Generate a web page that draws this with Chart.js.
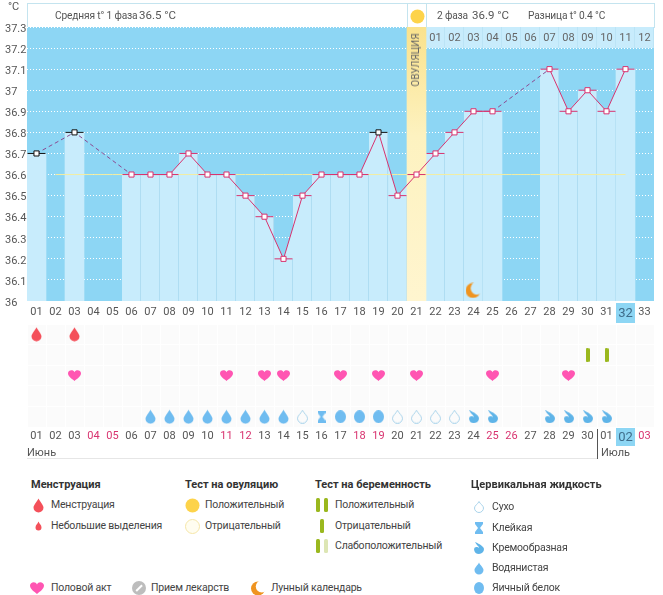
<!DOCTYPE html>
<html lang="ru">
<head>
<meta charset="utf-8">
<title>График БТТ</title>
<script src="https://cdn.jsdelivr.net/npm/chart.js@4"></script>
<style>
  html, body { margin: 0; padding: 0; background: #fff; }
  #page { position: relative; width: 663px; height: 595px; overflow: hidden; font-family: Roboto, sans-serif; color: #444; }
  #page canvas { position: absolute; }
  .t { position: absolute; white-space: nowrap; font-size: 10.5px; letter-spacing: -0.2px; line-height: 14px; transform: translateY(-50%); }
  .h { font-size: 10.2px; letter-spacing: -0.15px; color: #555; }
  .b { font-weight: 700; font-size: 11px; letter-spacing: 0; color: #333; }
  .n { font-size: 11.5px; letter-spacing: 0; color: #555; }
  .m { font-size: 11px; letter-spacing: 0; color: #555; }
  .box { position: absolute; box-sizing: border-box; }
</style>
</head>
<body>
<div id="page">
  <div class="box" style="left:27px;top:3px;width:628px;height:25px;border:1px solid #c4e4ef;border-bottom:0"></div>
  <div class="box" style="left:407px;top:3px;width:20px;height:25px;border:1px solid #c4e4ef;border-width:0 1px"></div>
  <canvas id="tempChart" width="663" height="326" style="left:0;top:0"></canvas>
  <canvas id="marksChart" width="663" height="122" style="left:0;top:324px"></canvas>
  <div class="box" style="left:27px;top:458px;width:570px;height:1px;background:#e6e6e6"></div>
  <div class="box" style="left:597px;top:429px;width:1px;height:30px;background:#555"></div>
  <div class="t" id="ovulation" style="left:416px;top:60px;transform:translate(-50%,-50%) rotate(-90deg);color:#666;font-size:10px;letter-spacing:0">ОВУЛЯЦИЯ</div>
</div>
<script>
const dayLabels = ['01','02','03','04','05','06','07','08','09','10','11','12','13','14','15','16','17','18','19','20','21','22','23','24','25','26','27','28','29','30','31','32','33'];
const calendarLabels = ['01','02','03','04','05','06','07','08','09','10','11','12','13','14','15','16','17','18','19','20','21','22','23','24','25','26','27','28','29','30','01','02','03'];
const tempTicks = ['36','36.1','36.2','36.3','36.4','36.5','36.6','36.7','36.8','36.9','37','37.1','37.2','37.3'];
const temps = [36.7,null,36.8,null,null,36.6,36.6,36.6,36.7,36.6,36.6,36.5,36.4,36.2,36.5,36.6,36.6,36.6,36.8,36.5,36.6,36.7,36.8,36.9,36.9,null,null,37.1,36.9,37,36.9,37.1,null];
const meanTemp = [null,36.6,36.6,36.6,36.6,36.6,36.6,36.6,36.6,36.6,36.6,36.6,36.6,36.6,36.6,36.6,36.6,36.6,36.6,36.6,36.6,36.6,36.6,36.6,36.6,36.6,36.6,36.6,36.6,36.6,36.6,36.6,null];
const excludedDays = [1,3,19];
const ovulationDay = 21;
const moonDay = 24;
const topStripDays = [22,23,24,25,26,27,28,29,30,31,32,33];
const topStripLabels = ['01','02','03','04','05','06','07','08','09','10','11','12'];
const todayDay = 32;
const redDays = [4,5,11,12,18,19,25,26,33];

const menstruationDays = [1,3];
const testDays = [30,31];
const sexDays = [3,11,13,14,17,19,21,25,29];
const wateryDays = [7,8,9,10,11,12,13,14];
const dryDays = [15,20,21,22,23];
const stickyDays = [16];
const eggDays = [17,18,19];
const creamyDays = [24,25,28,29,30,31];

const skyBlue = '#8dd6f4';
const paleBlue = '#c8ecfc';
const seam = '#a3d6ee';
const pink = '#d8336f';

// ---- icons, used on the chart and in the legend
function icon(w, h, draw) {
  const c = document.createElement('canvas');
  c.width = w; c.height = h;
  draw(c.getContext('2d'), w, h);
  return c;
}
function dropPath(g, w, h) {
  const r = w / 2 - 0.5;
  g.beginPath();
  g.moveTo(w / 2, 0.5);
  g.bezierCurveTo(w / 2 + 1, 3, w - 0.5, h - r - 3, w - 0.5, h - r - 0.5);
  g.arc(w / 2, h - r - 0.5, r, 0, Math.PI);
  g.bezierCurveTo(0.5, h - r - 3, w / 2 - 1, 3, w / 2, 0.5);
  g.closePath();
}
const fullDrop = (w, h, col) => icon(w, h, (g) => { dropPath(g, w, h); g.fillStyle = col; g.fill(); });
const hollowDrop = (w, h) => icon(w, h, (g) => { dropPath(g, w, h); g.strokeStyle = '#a9d3ea'; g.stroke(); });
const creamDrop = (w, h) => icon(w, h, (g) => {
  g.fillStyle = '#5fb4e8';
  g.beginPath();
  g.moveTo(1, 0);
  g.bezierCurveTo(6, 2, w, 5, w, h - 5);
  g.arc(w - 5, h - 5, 5, 0, Math.PI * 0.95);
  g.bezierCurveTo(w - 10, h - 8, w - 6, h - 7, w - 5, h - 6);
  g.bezierCurveTo(w - 5, h - 8, 3, 4, 1, 0);
  g.fill();
});
const eggDrop = (w, h) => icon(w, h, (g) => {
  g.fillStyle = '#6fbcf0';
  g.beginPath();
  g.ellipse(w / 2, h / 2, w / 2, h / 2, 0, 0, Math.PI * 2);
  g.fill();
});
const sticky = (w, h) => icon(w, h, (g) => {
  g.fillStyle = '#6fbcf0';
  g.beginPath();
  g.moveTo(0, 0); g.lineTo(w, 0); g.lineTo(w, 2);
  g.lineTo(w / 2 + 1, h / 2); g.lineTo(w, h - 2); g.lineTo(w, h); g.lineTo(0, h); g.lineTo(0, h - 2);
  g.lineTo(w / 2 - 1, h / 2); g.lineTo(0, 2);
  g.closePath();
  g.fill();
});
const heart = (w, h, col) => icon(w, h, (g) => {
  g.fillStyle = col;
  g.beginPath();
  g.moveTo(w / 2, h);
  g.bezierCurveTo(w * 0.3, h * 0.8, 0, h * 0.6, 0, h * 0.3);
  g.bezierCurveTo(0, 0, w * 0.4, -h * 0.1, w / 2, h * 0.2);
  g.bezierCurveTo(w * 0.6, -h * 0.1, w, 0, w, h * 0.3);
  g.bezierCurveTo(w, h * 0.6, w * 0.7, h * 0.8, w / 2, h);
  g.fill();
});
const moon = (s) => icon(s, s, (g) => {
  g.fillStyle = '#ef9420';
  g.beginPath();
  g.arc(s * 0.47, s / 2, s * 0.47, 0, Math.PI * 2);
  g.fill();
  g.globalCompositeOperation = 'destination-out';
  g.beginPath();
  g.arc(s * 0.72, s * 0.36, s * 0.4, 0, Math.PI * 2);
  g.fill();
});
const stick = (w, h, col) => icon(w, h, (g) => {
  g.fillStyle = col;
  g.beginPath();
  g.roundRect(0, 0, w, h, 1.5);
  g.fill();
});
const disc = (s, fill, line) => icon(s, s, (g) => {
  g.beginPath();
  g.arc(s / 2, s / 2, s / 2 - 0.5, 0, Math.PI * 2);
  if (fill) { g.fillStyle = fill; g.fill(); }
  if (line) { g.strokeStyle = line; g.stroke(); }
});
const pill = (s) => icon(s, s, (g) => {
  g.fillStyle = '#bdbdbd';
  g.beginPath();
  g.arc(s / 2, s / 2, s / 2, 0, Math.PI * 2);
  g.fill();
  g.strokeStyle = '#fff';
  g.lineWidth = 2;
  g.beginPath();
  g.moveTo(s * 0.3, s * 0.72);
  g.lineTo(s * 0.72, s * 0.3);
  g.stroke();
});

const blue = '#6fbcf0';
const waterIcon = fullDrop(11, 15, blue);

const onDays = (list, value) => dayLabels.map((d, i) => list.includes(i + 1) ? value : null);
const markDataset = (list, row, style) => ({
  type: 'line', data: onDays(list, row), showLine: false, pointStyle: style, pointRadius: 8, pointHoverRadius: 8
});

// ---- temperature chart
const paintCells = {
  id: 'paintCells',
  beforeDraw(chart) {
    const { ctx, chartArea: a, scales: { x } } = chart;
    ctx.save();
    ctx.fillStyle = skyBlue;
    ctx.fillRect(a.left, a.top, a.width, a.height);
    const px = x.getPixelForTick(todayDay - 1);
    ctx.fillRect(px - 9.5, a.bottom + 2, 19, 20);
    ctx.restore();
  },
  afterDatasetsDraw(chart) {
    const { ctx, scales: { x, y } } = chart;
    ctx.save();
    ctx.font = '11px Roboto, sans-serif';
    ctx.fillStyle = '#666';
    ctx.textAlign = 'center';
    ctx.textBaseline = 'middle';
    topStripDays.forEach((d, i) => {
      ctx.fillText(topStripLabels[i], x.getPixelForTick(d - 1), y.getPixelForValue(37.245));
    });
    ctx.restore();
  }
};

new Chart(document.getElementById('tempChart'), {
  data: {
    labels: dayLabels,
    datasets: [
      // fill under the solid parts of the curve
      { type: 'line', data: temps, order: 7, fill: 'origin', backgroundColor: paleBlue, borderWidth: 0, pointRadius: 0, spanGaps: false },
      { type: 'bar', data: temps, order: 6, grouped: false, barPercentage: 1, categoryPercentage: 1,
        backgroundColor: paleBlue, borderColor: seam,
        borderWidth: (c) => ({ top: 0, left: 0, bottom: 0, right: temps[c.dataIndex + 1] != null ? 1 : 0 }) },
      { type: 'bar', data: onDays([ovulationDay], 37.3), order: 5, grouped: false, barPercentage: 1, categoryPercentage: 1,
        backgroundColor: (c) => {
          const a = c.chart.chartArea;
          if (!a) return '#fff3c4';
          const grad = c.chart.ctx.createLinearGradient(0, a.top, 0, a.bottom);
          grad.addColorStop(0, '#fae28c');
          grad.addColorStop(0.4, '#fdf2c0');
          grad.addColorStop(1, '#fff5cf');
          return grad;
        } },
      { type: 'bar', data: onDays(topStripDays, [37.2, 37.3]), order: 5, grouped: false, barPercentage: 1, categoryPercentage: 1,
        backgroundColor: paleBlue, borderColor: '#b5e0f4', borderWidth: { top: 0, left: 0, bottom: 0, right: 1 } },
      { type: 'line', data: meanTemp, order: 4, borderColor: '#f3eda0', borderWidth: 1, pointRadius: 0 },
      // dashes only over the days with no reading
      { type: 'line', data: temps, order: 3, spanGaps: true, borderWidth: 1, pointRadius: 0, borderColor: 'transparent',
        segment: {
          borderColor: (s) => (s.p0.skip || s.p1.skip) ? '#8c4a92' : 'transparent',
          borderDash: [4, 3]
        } },
      { type: 'line', data: temps, order: 2, spanGaps: false, borderColor: pink, borderWidth: 1, pointRadius: 0 },
      { type: 'line', data: temps, order: 2, showLine: false, pointStyle: 'line', pointRadius: 9, pointBorderWidth: 1,
        pointBorderColor: (c) => excludedDays.includes(c.dataIndex + 1) ? '#111' : pink },
      { type: 'line', data: temps, order: 1, showLine: false, pointStyle: 'rect', pointRadius: 3.6, pointBorderWidth: 1,
        pointBackgroundColor: '#fff', pointBorderColor: (c) => excludedDays.includes(c.dataIndex + 1) ? '#111' : pink },
      { type: 'line', data: onDays([moonDay], 36.05), order: 1, showLine: false, pointStyle: moon(16), pointRadius: 8 }
    ]
  },
  options: {
    responsive: false,
    animation: false,
    events: [],
    layout: { autoPadding: false, padding: { left: 5, top: 27, right: 9, bottom: 0 } },
    plugins: { legend: { display: false }, tooltip: { enabled: false } },
    scales: {
      x: {
        offset: true,
        grid: { display: false, drawTicks: false },
        border: { display: false },
        afterFit: (s) => { s.height = 25; },
        ticks: {
          autoSkip: false, maxRotation: 0, padding: 5,
          color: (c) => c.index === todayDay - 1 ? '#3f6d8a' : '#555',
          font: (c) => ({ family: 'Roboto, sans-serif', size: c.index === todayDay - 1 ? 13 : 11 })
        }
      },
      y: {
        min: 36, max: 37.3,
        grid: { color: '#fff', lineWidth: 1, drawTicks: false },
        border: { display: false, dash: [1, 2] },
        afterFit: (s) => { s.width = 22; },
        ticks: {
          stepSize: 0.1, padding: 0, crossAlign: 'far', labelOffset: 2, color: '#555',
          font: { family: 'Roboto, sans-serif', size: 11 },
          callback: (v, i) => tempTicks[i]
        }
      }
    }
  },
  plugins: [paintCells]
});

// ---- rows of marks under the chart
const paintRows = {
  id: 'paintRows',
  beforeDraw(chart) {
    const { ctx, chartArea: a, scales: { x } } = chart;
    ctx.save();
    ctx.fillStyle = '#fbfbfb';
    ctx.fillRect(a.left, a.top, a.width, a.height);
    ctx.fillStyle = skyBlue;
    ctx.fillRect(x.getPixelForTick(todayDay - 1) - 9.5, a.bottom, 19, 19);
    ctx.restore();
  }
};

new Chart(document.getElementById('marksChart'), {
  data: {
    labels: calendarLabels,
    datasets: [
      markDataset(menstruationDays, 0.5, fullDrop(11, 15, '#f4505a')),
      markDataset(testDays, 1.5, stick(4, 14, '#9ab81e')),
      markDataset(sexDays, 2.5, heart(13, 11, '#ff55b2')),
      markDataset(wateryDays, 4.5, waterIcon),
      markDataset(dryDays, 4.5, hollowDrop(11, 14)),
      markDataset(stickyDays, 4.5, sticky(8, 12)),
      markDataset(eggDays, 4.5, eggDrop(11, 13)),
      markDataset(creamyDays, 4.5, creamDrop(11, 13))
    ]
  },
  options: {
    responsive: false,
    animation: false,
    events: [],
    layout: { autoPadding: false, padding: { left: 5, top: 0, right: 9, bottom: 0 } },
    plugins: { legend: { display: false }, tooltip: { enabled: false } },
    scales: {
      x: {
        offset: true,
        grid: { color: '#fff', drawTicks: false, offset: true },
        border: { display: false },
        afterFit: (s) => { s.height = 19; },
        ticks: {
          autoSkip: false, maxRotation: 0, padding: 3,
          color: (c) => c.index === todayDay - 1 ? '#3f6d8a' : redDays.includes(c.index + 1) ? '#d8336f' : '#555',
          font: (c) => ({ family: 'Roboto, sans-serif', size: c.index === todayDay - 1 ? 13 : 11 })
        }
      },
      y: {
        min: 0, max: 5, reverse: true,
        grid: { color: '#fff', drawTicks: false },
        border: { display: false },
        afterFit: (s) => { s.width = 22; },
        ticks: { stepSize: 1, display: false }
      }
    }
  },
  plugins: [paintRows]
});

// ---- header, months and legend
const page = document.getElementById('page');
function text(x, y, str, cls) {
  const el = document.createElement('div');
  el.className = 't ' + (cls || '');
  el.style.left = x + 'px';
  el.style.top = y + 'px';
  el.textContent = str;
  page.appendChild(el);
}
function put(cx, cy, c) {
  c.style.left = (cx - c.width / 2) + 'px';
  c.style.top = (cy - c.height / 2) + 'px';
  page.appendChild(c);
}

text(8, 7, '°C', 'm');
text(55, 16, 'Средняя t° 1 фаза', 'h');
text(139, 15, '36.5 °C', 'n');
put(417, 16, disc(15, '#fdd34a'));
text(437, 16, '2 фаза', 'h');
text(472, 15, '36.9 °C', 'n');
text(528, 16, 'Разница t° 0.4 °C', 'h');
text(27, 453, 'Июнь', 'm');
text(601, 453, 'Июль', 'm');

text(31, 485, 'Менструация', 'b');
put(38, 505, fullDrop(11, 15, '#f4505a'));
text(51, 505, 'Менструация');
put(38, 526, fullDrop(7, 10, '#f4505a'));
text(51, 526, 'Небольшие выделения');

text(185, 485, 'Тест на овуляцию', 'b');
put(192, 505, disc(15, '#fdd34a'));
text(205, 505, 'Положительный');
put(192, 526, disc(15, '#fffdf0', '#f5e6a8'));
text(205, 526, 'Отрицательный');

text(315, 485, 'Тест на беременность', 'b');
put(318, 505, stick(4, 14, '#9ab81e'));
put(326, 505, stick(4, 14, '#9ab81e'));
text(335, 505, 'Положительный');
put(322, 526, stick(4, 14, '#9ab81e'));
text(335, 526, 'Отрицательный');
put(318, 546, stick(4, 14, '#9ab81e'));
put(326, 546, stick(4, 14, '#dde6b4'));
text(335, 546, 'Слабоположительный');

text(471, 485, 'Цервикальная жидкость', 'b');
put(479, 507, hollowDrop(10, 12));
text(492, 507, 'Сухо');
put(479, 528, sticky(8, 12));
text(492, 528, 'Клейкая');
put(479, 548, creamDrop(10, 12));
text(492, 548, 'Кремообразная');
put(479, 568, fullDrop(10, 13, blue));
text(492, 568, 'Водянистая');
put(479, 588, eggDrop(10, 12));
text(492, 588, 'Яичный белок');

put(37, 588, heart(14, 12, '#ff55b2'));
text(51, 588, 'Половой акт');
put(139, 588, pill(14));
text(151, 588, 'Прием лекарств');
put(258, 588, moon(15));
text(271, 588, 'Лунный календарь');
</script>
</body>
</html>
